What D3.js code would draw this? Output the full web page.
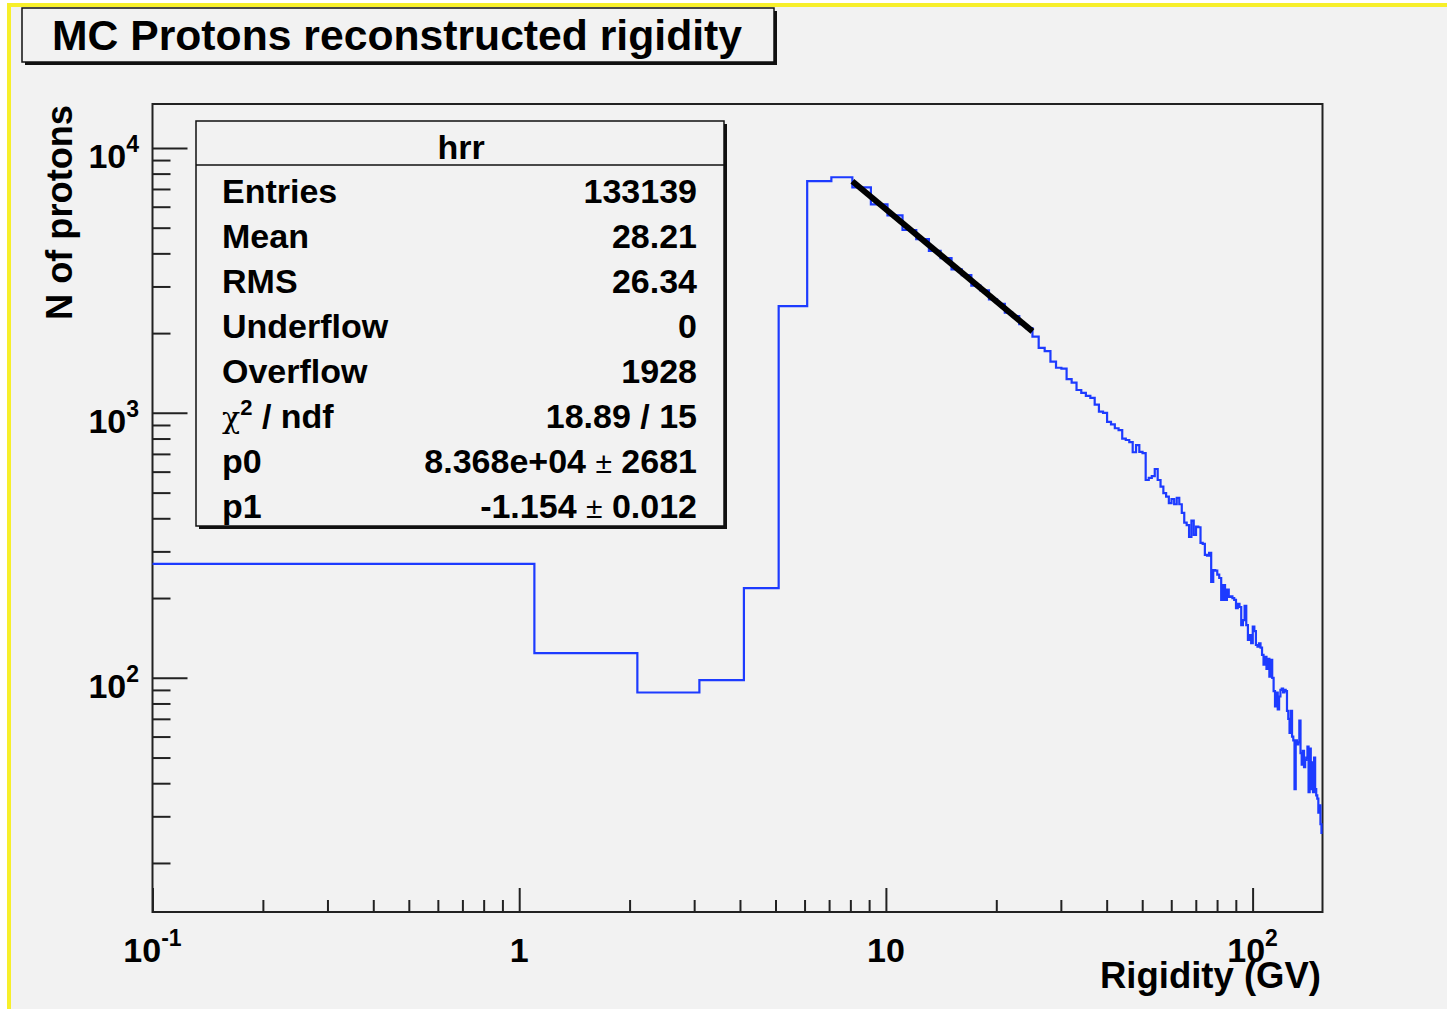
<!DOCTYPE html>
<html>
<head>
<meta charset="utf-8">
<script src="https://cdn.jsdelivr.net/npm/d3@7"></script>
<style>
  body { margin: 0; background: #fff; }
  svg text { font-family: "Liberation Sans", Arial, Helvetica, sans-serif; font-weight: bold; fill: #000; }
</style>
</head>
<body>
<div id="chart"></div>
<script>
// Histogram "hrr": 1 GV bins starting at 0.1 GV
const firstEdge = 0.1;
const binWidth = 1;
// bins 0.1 .. 8.1
const lowCounts = [269, 124, 88, 98, 218, 2530, 7500, 7750];
// bins 8.1 .. 25.1 (fit range)
const fitCounts = [7100, 6120, 5560, 4900, 4530, 4090, 3840, 3480, 3310, 3020, 2900, 2680, 2580, 2390, 2320, 2160, 2090];
// bins 25.1 .. 155.1
const tailCounts = [
  1940, 1760, 1710, 1560, 1480, 1470, 1340, 1300, 1220, 1190,
  1160, 1140, 1075, 1010, 1000, 925, 905, 875, 860, 800,
  790, 775, 710, 755, 712, 705, 558, 568, 577, 614,
  558, 527, 498, 483, 456, 473, 452, 478, 452, 419,
  385, 377, 340, 392, 346, 372, 370, 323, 320, 291,
  289, 296, 230, 255, 254, 245, 238, 197, 224, 197,
  215, 202, 203, 200, 197, 183, 190, 185, 158, 165,
  187, 158, 139, 145, 135, 156, 150, 133, 131, 135,
  130, 122, 112, 120, 108, 118, 101, 117, 100, 89,
  78, 88, 76, 85, 90, 91, 88, 90, 89, 75,
  70, 62, 75, 60, 58, 38, 58, 56, 57, 69,
  52, 47, 53, 46, 49, 50, 55, 37, 54, 38,
  48, 37, 50, 38, 36, 35, 31, 33, 28, 26
];
// power-law fit drawn between the ends of the fit range
const fitX = [8.1, 25.1];
const fitY = [7485, 2030];

const xDomain = [0.1, 155.1];
const yDomain = [13.06, 14650];

const statLabels = ["Entries", "Mean", "RMS", "Underflow", "Overflow", "chi2", "p0", "p1"];
const statValues = ["133139", "28.21", "26.34", "0", "1928", "18.89 / 15", "8.368e+04|2681", "-1.154|0.012"];

const W = 1447, H = 1009;
const frame = { left: 152.5, right: 1322.5, top: 104, bottom: 912 };

const svg = d3.select("#chart").append("svg")
    .attr("width", W).attr("height", H);

// canvas: white edge, yellow border, grey pad
svg.append("rect").attr("width", W).attr("height", H).attr("fill", "#fff");
svg.append("rect").attr("x", 7).attr("y", 3).attr("width", W - 7).attr("height", H - 3).attr("fill", "#f7ef2a");
svg.append("rect").attr("x", 11).attr("y", 7).attr("width", W - 11).attr("height", H - 7).attr("fill", "#f2f2f2");

const xScale = d3.scaleLog().domain(xDomain).range([frame.left, frame.right]);
const yScale = d3.scaleLog().domain(yDomain).range([frame.bottom, frame.top]);

const isMajor = v => Math.abs(Math.log10(v) - Math.round(Math.log10(v))) < 1e-9;

// ticks
const xTicks = xScale.ticks();
const yTicks = yScale.ticks();

svg.append("g").attr("transform", `translate(0,${frame.bottom})`)
    .call(d3.axisBottom(xScale).tickValues(xTicks.filter(d => !isMajor(d))).tickSize(-12).tickFormat(""))
    .call(g => g.select(".domain").remove())
    .selectAll("line").attr("stroke", "#222").attr("stroke-width", 2);
svg.append("g").attr("transform", `translate(0,${frame.bottom})`)
    .call(d3.axisBottom(xScale).tickValues(xTicks.filter(isMajor)).tickSize(-24).tickFormat(""))
    .call(g => g.select(".domain").remove())
    .selectAll("line").attr("stroke", "#222").attr("stroke-width", 2);

svg.append("g").attr("transform", `translate(${frame.left},0)`)
    .call(d3.axisLeft(yScale).tickValues(yTicks.filter(d => !isMajor(d))).tickSize(-18).tickFormat(""))
    .call(g => g.select(".domain").remove())
    .selectAll("line").attr("stroke", "#222").attr("stroke-width", 2);
svg.append("g").attr("transform", `translate(${frame.left},0)`)
    .call(d3.axisLeft(yScale).tickValues(yTicks.filter(isMajor)).tickSize(-35).tickFormat(""))
    .call(g => g.select(".domain").remove())
    .selectAll("line").attr("stroke", "#222").attr("stroke-width", 2);

// frame
svg.append("rect")
    .attr("x", frame.left).attr("y", frame.top)
    .attr("width", frame.right - frame.left).attr("height", frame.bottom - frame.top)
    .attr("fill", "none").attr("stroke", "#222").attr("stroke-width", 2);

// power-of-ten labels, "1" and "10" written plainly like ROOT does
function powLabel(sel, v) {
    const e = Math.round(Math.log10(v));
    if (e === 0) { sel.text("1"); return; }
    if (e === 1) { sel.text("10"); return; }
    sel.append("tspan").text("10");
    sel.append("tspan").attr("dy", -16).attr("font-size", 23).text(e);
}

xTicks.filter(isMajor).forEach(v => {
    const t = svg.append("text")
        .attr("x", xScale(v)).attr("y", 962)
        .attr("text-anchor", "middle").attr("font-size", 34);
    powLabel(t, v);
});

yTicks.filter(isMajor).forEach(v => {
    const t = svg.append("text")
        .attr("x", 139).attr("y", yScale(v) + 20)
        .attr("text-anchor", "end").attr("font-size", 34);
    powLabel(t, v);
});

// axis titles
svg.append("text")
    .attr("x", 1321).attr("y", 988)
    .attr("text-anchor", "end").attr("font-size", 36)
    .attr("textLength", 221).attr("lengthAdjust", "spacingAndGlyphs")
    .text("Rigidity (GV)");

svg.append("text")
    .attr("transform", "translate(72,105) rotate(-90)")
    .attr("text-anchor", "end").attr("font-size", 36)
    .attr("textLength", 215).attr("lengthAdjust", "spacingAndGlyphs")
    .text("N of protons");

// histogram outline
const counts = lowCounts.concat(fitCounts, tailCounts);
const steps = counts.map((c, i) => ({ x: firstEdge + i * binWidth, y: c }));
steps.push({ x: firstEdge + counts.length * binWidth, y: counts[counts.length - 1] });

const histLine = d3.line()
    .x(d => xScale(d.x))
    .y(d => yScale(d.y))
    .curve(d3.curveStepAfter);

svg.append("path").datum(steps)
    .attr("fill", "none").attr("stroke", "#1d3bff").attr("stroke-width", 2.2)
    .attr("d", histLine);

// fit line
const fitLine = d3.line().x(d => xScale(d[0])).y(d => yScale(d[1]));
svg.append("path").datum(d3.zip(fitX, fitY))
    .attr("fill", "none").attr("stroke", "#000").attr("stroke-width", 6)
    .attr("d", fitLine);

// boxes with a drop shadow on right and bottom
function shadowBox(x, y, w, h) {
    svg.append("rect").attr("x", x + 3).attr("y", y + 3).attr("width", w).attr("height", h).attr("fill", "#111");
    svg.append("rect").attr("x", x).attr("y", y).attr("width", w).attr("height", h)
        .attr("fill", "#f2f2f2").attr("stroke", "#111").attr("stroke-width", 1.5);
}

// title
shadowBox(22, 8, 752, 54);
svg.append("text")
    .attr("x", 52).attr("y", 50).attr("font-size", 42)
    .attr("textLength", 690).attr("lengthAdjust", "spacingAndGlyphs")
    .text("MC Protons reconstructed rigidity");

// stats box
const stat = { x: 196, y: 121, w: 528, h: 405 };
shadowBox(stat.x, stat.y, stat.w, stat.h);
svg.append("line")
    .attr("x1", stat.x).attr("x2", stat.x + stat.w)
    .attr("y1", 165).attr("y2", 165)
    .attr("stroke", "#111").attr("stroke-width", 1.5);
svg.append("text")
    .attr("x", stat.x + stat.w / 2 + 1).attr("y", 159)
    .attr("text-anchor", "middle").attr("font-size", 34)
    .text("hrr");

const rowY = d3.scalePoint().domain(statLabels).range([203, 518]);

statLabels.forEach((lab, i) => {
    const t = svg.append("text").attr("x", 222).attr("y", rowY(lab)).attr("font-size", 34);
    if (lab === "chi2") {
        t.append("tspan").attr("font-weight", "normal").attr("font-family", "DejaVu Serif, serif").attr("font-size", 30).text("\u03c7");
        t.append("tspan").attr("dy", -13).attr("font-size", 22).text("2");
        t.append("tspan").attr("dy", 13).text(" / ndf");
    } else {
        t.text(lab);
    }

    const v = svg.append("text").attr("x", 697).attr("y", rowY(lab))
        .attr("text-anchor", "end").attr("font-size", 34);
    const parts = statValues[i].split("|");
    if (parts.length === 2) {
        v.append("tspan").text(parts[0] + " ");
        v.append("tspan").attr("font-weight", "normal").attr("font-size", 30).text("\u00b1");
        v.append("tspan").text(" " + parts[1]);
    } else {
        v.text(parts[0]);
    }
});
</script>
</body>
</html>
